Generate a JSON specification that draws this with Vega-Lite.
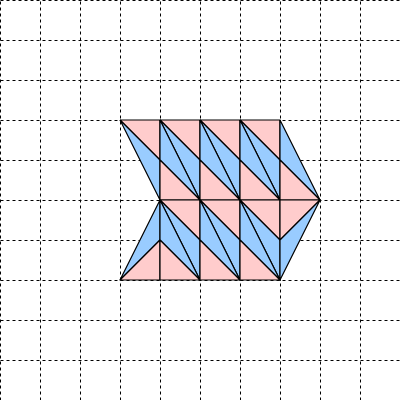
{
  "$schema": "https://vega.github.io/schema/vega-lite/v6.json",
  "width": 400,
  "height": 400,
  "autosize": "none",
  "padding": 0,
  "background": "white",
  "config": {"view": {"stroke": null}},
  "data": {"values": [
    {"t":0,"o":0,"x":3,"y":3,"c":"pink"},{"t":0,"o":1,"x":4,"y":3,"c":"pink"},{"t":0,"o":2,"x":4,"y":4,"c":"pink"},{"t":0,"o":3,"x":3,"y":3,"c":"pink"},
    {"t":1,"o":0,"x":3,"y":3,"c":"blue"},{"t":1,"o":1,"x":4,"y":4,"c":"blue"},{"t":1,"o":2,"x":4,"y":5,"c":"blue"},{"t":1,"o":3,"x":3,"y":3,"c":"blue"},
    {"t":2,"o":0,"x":4,"y":3,"c":"pink"},{"t":2,"o":1,"x":5,"y":3,"c":"pink"},{"t":2,"o":2,"x":5,"y":4,"c":"pink"},{"t":2,"o":3,"x":4,"y":3,"c":"pink"},
    {"t":3,"o":0,"x":4,"y":3,"c":"blue"},{"t":3,"o":1,"x":5,"y":4,"c":"blue"},{"t":3,"o":2,"x":5,"y":5,"c":"blue"},{"t":3,"o":3,"x":4,"y":3,"c":"blue"},
    {"t":4,"o":0,"x":4,"y":3,"c":"blue"},{"t":4,"o":1,"x":5,"y":5,"c":"blue"},{"t":4,"o":2,"x":4,"y":4,"c":"blue"},{"t":4,"o":3,"x":4,"y":3,"c":"blue"},
    {"t":5,"o":0,"x":4,"y":4,"c":"pink"},{"t":5,"o":1,"x":5,"y":5,"c":"pink"},{"t":5,"o":2,"x":4,"y":5,"c":"pink"},{"t":5,"o":3,"x":4,"y":4,"c":"pink"},
    {"t":6,"o":0,"x":5,"y":3,"c":"pink"},{"t":6,"o":1,"x":6,"y":3,"c":"pink"},{"t":6,"o":2,"x":6,"y":4,"c":"pink"},{"t":6,"o":3,"x":5,"y":3,"c":"pink"},
    {"t":7,"o":0,"x":5,"y":3,"c":"blue"},{"t":7,"o":1,"x":6,"y":4,"c":"blue"},{"t":7,"o":2,"x":6,"y":5,"c":"blue"},{"t":7,"o":3,"x":5,"y":3,"c":"blue"},
    {"t":8,"o":0,"x":5,"y":3,"c":"blue"},{"t":8,"o":1,"x":6,"y":5,"c":"blue"},{"t":8,"o":2,"x":5,"y":4,"c":"blue"},{"t":8,"o":3,"x":5,"y":3,"c":"blue"},
    {"t":9,"o":0,"x":5,"y":4,"c":"pink"},{"t":9,"o":1,"x":6,"y":5,"c":"pink"},{"t":9,"o":2,"x":5,"y":5,"c":"pink"},{"t":9,"o":3,"x":5,"y":4,"c":"pink"},
    {"t":10,"o":0,"x":6,"y":3,"c":"pink"},{"t":10,"o":1,"x":7,"y":3,"c":"pink"},{"t":10,"o":2,"x":7,"y":4,"c":"pink"},{"t":10,"o":3,"x":6,"y":3,"c":"pink"},
    {"t":11,"o":0,"x":6,"y":3,"c":"blue"},{"t":11,"o":1,"x":7,"y":4,"c":"blue"},{"t":11,"o":2,"x":7,"y":5,"c":"blue"},{"t":11,"o":3,"x":6,"y":3,"c":"blue"},
    {"t":12,"o":0,"x":6,"y":3,"c":"blue"},{"t":12,"o":1,"x":7,"y":5,"c":"blue"},{"t":12,"o":2,"x":6,"y":4,"c":"blue"},{"t":12,"o":3,"x":6,"y":3,"c":"blue"},
    {"t":13,"o":0,"x":6,"y":4,"c":"pink"},{"t":13,"o":1,"x":7,"y":5,"c":"pink"},{"t":13,"o":2,"x":6,"y":5,"c":"pink"},{"t":13,"o":3,"x":6,"y":4,"c":"pink"},
    {"t":14,"o":0,"x":7,"y":3,"c":"blue"},{"t":14,"o":1,"x":8,"y":5,"c":"blue"},{"t":14,"o":2,"x":7,"y":4,"c":"blue"},{"t":14,"o":3,"x":7,"y":3,"c":"blue"},
    {"t":15,"o":0,"x":7,"y":4,"c":"pink"},{"t":15,"o":1,"x":8,"y":5,"c":"pink"},{"t":15,"o":2,"x":7,"y":5,"c":"pink"},{"t":15,"o":3,"x":7,"y":4,"c":"pink"},
    {"t":16,"o":0,"x":4,"y":5,"c":"blue"},{"t":16,"o":1,"x":3,"y":7,"c":"blue"},{"t":16,"o":2,"x":4,"y":6,"c":"blue"},{"t":16,"o":3,"x":4,"y":5,"c":"blue"},
    {"t":17,"o":0,"x":3,"y":7,"c":"pink"},{"t":17,"o":1,"x":4,"y":6,"c":"pink"},{"t":17,"o":2,"x":4,"y":7,"c":"pink"},{"t":17,"o":3,"x":3,"y":7,"c":"pink"},
    {"t":18,"o":0,"x":4,"y":5,"c":"pink"},{"t":18,"o":1,"x":5,"y":5,"c":"pink"},{"t":18,"o":2,"x":5,"y":6,"c":"pink"},{"t":18,"o":3,"x":4,"y":5,"c":"pink"},
    {"t":19,"o":0,"x":4,"y":5,"c":"blue"},{"t":19,"o":1,"x":5,"y":6,"c":"blue"},{"t":19,"o":2,"x":5,"y":7,"c":"blue"},{"t":19,"o":3,"x":4,"y":5,"c":"blue"},
    {"t":20,"o":0,"x":4,"y":5,"c":"blue"},{"t":20,"o":1,"x":5,"y":7,"c":"blue"},{"t":20,"o":2,"x":4,"y":6,"c":"blue"},{"t":20,"o":3,"x":4,"y":5,"c":"blue"},
    {"t":21,"o":0,"x":4,"y":6,"c":"pink"},{"t":21,"o":1,"x":5,"y":7,"c":"pink"},{"t":21,"o":2,"x":4,"y":7,"c":"pink"},{"t":21,"o":3,"x":4,"y":6,"c":"pink"},
    {"t":22,"o":0,"x":5,"y":5,"c":"pink"},{"t":22,"o":1,"x":6,"y":5,"c":"pink"},{"t":22,"o":2,"x":6,"y":6,"c":"pink"},{"t":22,"o":3,"x":5,"y":5,"c":"pink"},
    {"t":23,"o":0,"x":5,"y":5,"c":"blue"},{"t":23,"o":1,"x":6,"y":6,"c":"blue"},{"t":23,"o":2,"x":6,"y":7,"c":"blue"},{"t":23,"o":3,"x":5,"y":5,"c":"blue"},
    {"t":24,"o":0,"x":5,"y":5,"c":"blue"},{"t":24,"o":1,"x":6,"y":7,"c":"blue"},{"t":24,"o":2,"x":5,"y":6,"c":"blue"},{"t":24,"o":3,"x":5,"y":5,"c":"blue"},
    {"t":25,"o":0,"x":5,"y":6,"c":"pink"},{"t":25,"o":1,"x":6,"y":7,"c":"pink"},{"t":25,"o":2,"x":5,"y":7,"c":"pink"},{"t":25,"o":3,"x":5,"y":6,"c":"pink"},
    {"t":26,"o":0,"x":6,"y":5,"c":"pink"},{"t":26,"o":1,"x":7,"y":5,"c":"pink"},{"t":26,"o":2,"x":7,"y":6,"c":"pink"},{"t":26,"o":3,"x":6,"y":5,"c":"pink"},
    {"t":27,"o":0,"x":6,"y":5,"c":"blue"},{"t":27,"o":1,"x":7,"y":6,"c":"blue"},{"t":27,"o":2,"x":7,"y":7,"c":"blue"},{"t":27,"o":3,"x":6,"y":5,"c":"blue"},
    {"t":28,"o":0,"x":6,"y":5,"c":"blue"},{"t":28,"o":1,"x":7,"y":7,"c":"blue"},{"t":28,"o":2,"x":6,"y":6,"c":"blue"},{"t":28,"o":3,"x":6,"y":5,"c":"blue"},
    {"t":29,"o":0,"x":6,"y":6,"c":"pink"},{"t":29,"o":1,"x":7,"y":7,"c":"pink"},{"t":29,"o":2,"x":6,"y":7,"c":"pink"},{"t":29,"o":3,"x":6,"y":6,"c":"pink"},
    {"t":30,"o":0,"x":7,"y":5,"c":"pink"},{"t":30,"o":1,"x":8,"y":5,"c":"pink"},{"t":30,"o":2,"x":7,"y":6,"c":"pink"},{"t":30,"o":3,"x":7,"y":5,"c":"pink"},
    {"t":31,"o":0,"x":7,"y":6,"c":"blue"},{"t":31,"o":1,"x":8,"y":5,"c":"blue"},{"t":31,"o":2,"x":7,"y":7,"c":"blue"},{"t":31,"o":3,"x":7,"y":6,"c":"blue"}
  ]},
  "mark": {"type": "line", "stroke": "black", "strokeWidth": 1.2, "strokeJoin": "round", "fillOpacity": 1},
  "encoding": {
    "x": {"field": "x", "type": "quantitative", "scale": {"domain": [0, 10], "nice": false},
      "axis": {"values": [0,1,2,3,4,5,6,7,8,9,10], "labels": false, "ticks": false, "domain": false, "title": null,
        "grid": true, "gridColor": "black", "gridDash": [3, 3], "gridOpacity": 1, "gridWidth": 1}},
    "y": {"field": "y", "type": "quantitative", "scale": {"domain": [0, 10], "nice": false, "reverse": true},
      "axis": {"values": [0,1,2,3,4,5,6,7,8,9,10], "labels": false, "ticks": false, "domain": false, "title": null,
        "grid": true, "gridColor": "black", "gridDash": [3, 3], "gridOpacity": 1, "gridWidth": 1}},
    "detail": {"field": "t", "type": "nominal"},
    "order": {"field": "o", "type": "quantitative"},
    "fill": {"field": "c", "type": "nominal", "scale": {"domain": ["pink", "blue"], "range": ["#ffcccc", "#99ccff"]}, "legend": null}
  }
}
